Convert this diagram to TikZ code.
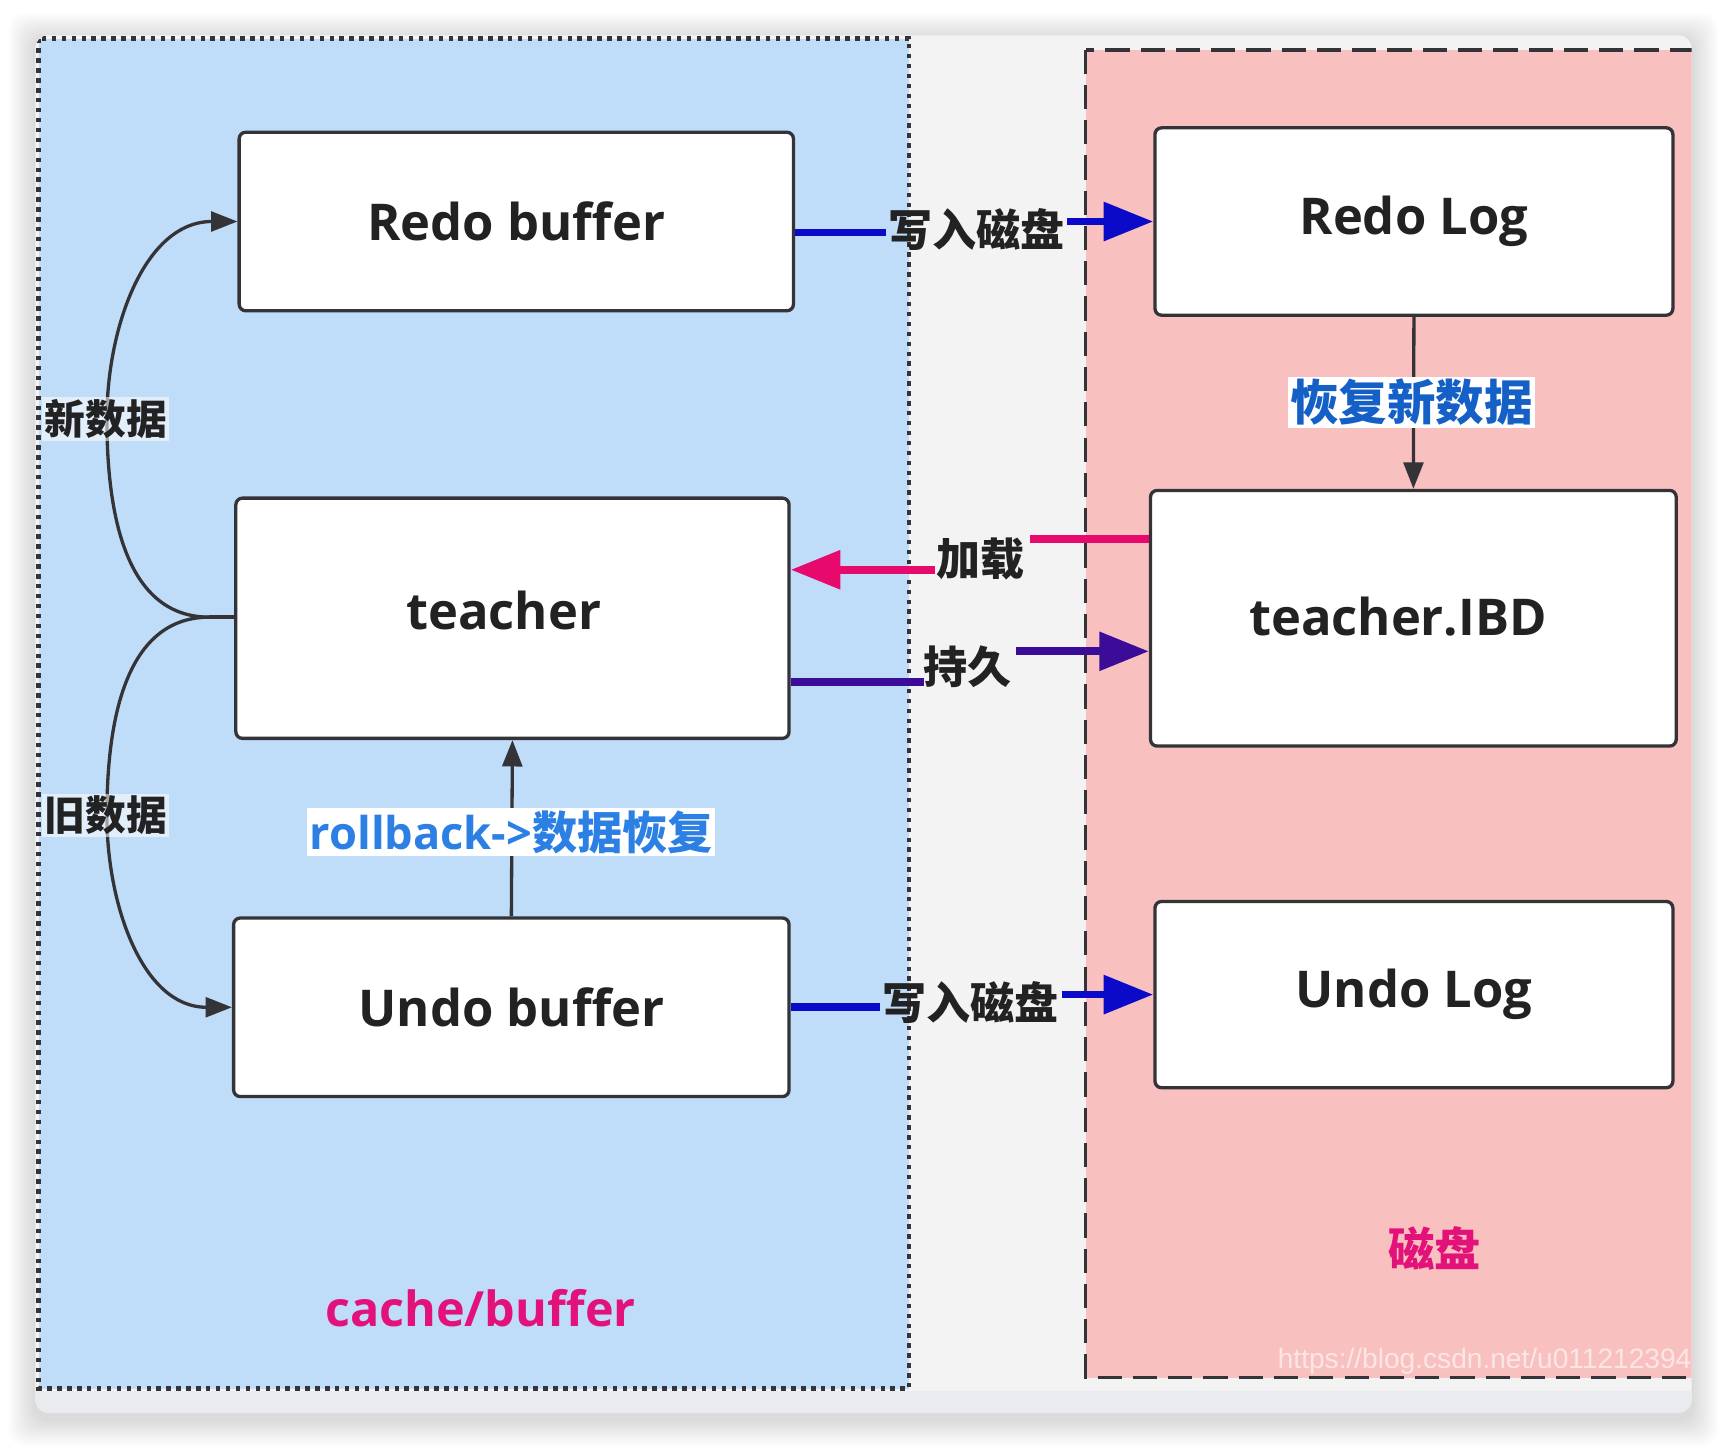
\documentclass[tikz,border=0pt]{standalone}
\usepackage{fontspec}
\setmainfont{Open Sans}
\newfontfamily\cjk{Noto Sans CJK SC}
\newfontfamily\wmfont{Liberation Sans}
\usetikzlibrary{arrows.meta}

\definecolor{cachefill}{HTML}{BFDDF8}
\definecolor{diskfill}{HTML}{F9C0C0}
\definecolor{cardfill}{HTML}{F3F3F3}
\definecolor{stripfill}{HTML}{E9EBEF}
\definecolor{boxline}{HTML}{333338}
\definecolor{txt}{HTML}{222222}
\definecolor{writeblue}{HTML}{0A0AC8}
\definecolor{loadpink}{HTML}{E8096C}
\definecolor{persistpurple}{HTML}{3A0C98}
\definecolor{recoverblue}{HTML}{1560C6}
\definecolor{rollblue}{HTML}{2C80E4}
\definecolor{areamagenta}{HTML}{E3127A}

\tikzset{
  box/.style={draw=boxline, line width=3pt, fill=white, rounded corners=6pt,
    inner sep=0pt, text=txt, font=\bfseries\fontsize{46}{50}\selectfont},
  cjklbl/.style={inner sep=2pt, text=txt, font=\cjk\bfseries\fontsize{40}{44}\selectfont},
  sidelbl/.style={cjklbl, fill=white, fill opacity=0.55, text opacity=1,
    font=\cjk\bfseries\fontsize{37}{40}\selectfont},
  fatline/.style={line width=7pt},
  fattip/.style={fatline, -{Triangle[length=45pt,width=34pt]}},
  blkline/.style={draw=boxline, line width=3pt},
  blktip/.style={blkline, -{Triangle[length=24pt,width=18pt]}},
  arealbl/.style={text=areamagenta, font=\bfseries\fontsize{44}{50}\selectfont}
}

\begin{document}
\begin{tikzpicture}[x=1pt,y=-1pt]
% page and card
\fill[white] (0,0) rectangle (1568,1316);
\useasboundingbox (0,0) rectangle (1568,1316);
\foreach \d in {2,4,...,24}{
  \fill[black, opacity=0.012, rounded corners=14pt]
    (32-\d,32-\d+4) rectangle (1535+\d,1282+\d+6);
}
\path[fill=cardfill, rounded corners=12pt] (32,32) rectangle (1535,1282);

\begin{scope}
  \clip[rounded corners=12pt] (32,32) rectangle (1535,1282);
  \fill[stripfill] (32,1262) rectangle (1535,1282);
  % memory side
  \fill[cachefill] (35,35) rectangle (825,1260);
  \draw[boxline, line width=4pt, dash pattern=on 4pt off 5pt]
    (35,35) rectangle (825,1260);
  % disk side
  \fill[diskfill] (985,45) rectangle (1560,1250);
  \draw[boxline, line width=3.5pt, dash pattern=on 22pt off 10pt]
    (985,45) rectangle (1560,1250);
  \node[anchor=west, text=white, text opacity=0.6,
    font=\wmfont\fontsize{25.5}{30}\selectfont] (wm) at (1156,1235)
    {https://blog.csdn.net/u011212394};
\end{scope}

% boxes
\node[box, minimum width=503pt, minimum height=162pt] (rb) at (468.5,201) {Redo buffer};
\node[box, minimum width=502pt, minimum height=218pt] (t)  at (465,561) {\raisebox{14pt}{teacher}\hspace*{16pt}};
\node[box, minimum width=504pt, minimum height=162pt] (ub) at (464,914) {Undo buffer};
\node[box, minimum width=470pt, minimum height=170pt] (rl) at (1283,201) {\raisebox{-3pt}{Redo Log}};
\node[box, minimum width=477pt, minimum height=232pt] (ib) at (1282.5,561) {\raisebox{4pt}{teacher.IBD}\hspace*{28pt}};
\node[box, minimum width=470pt, minimum height=169pt] (ul) at (1283,902.5) {Undo Log};

% area titles
\node[arealbl] (cb) at (436,1187) {cache/buffer};
\node[arealbl, font=\cjk\bfseries\fontsize{42}{46}\selectfont] (cp) at (1302,1133) {磁盘};

% write redo buffer to disk
\node[cjklbl] (w1) at (886,208) {写入磁盘};
\draw[writeblue, fatline] ([yshift=-10pt]rb.east) -- ([yshift=-10pt]rb.east -| w1.west);
\draw[writeblue, fattip] (w1.east |- rl.west) -- (rl.west);

% write undo buffer to disk
\node[cjklbl] (w2) at (881,910) {写入磁盘};
\draw[writeblue, fatline] (ub.east) -- (w2.west |- ub.east);
\draw[writeblue, fattip] (w2.east |- ul.west) -- (ul.west);

% load from disk
\node[cjklbl] (jz) at (890,507) {加载};
\coordinate (jzr) at (935,489);
\coordinate (jzl) at (848,517);
\draw[loadpink, fatline] (ib.west |- jzr) -- (jzr);
\draw[loadpink, fattip] (jzl) -- (t.east |- jzl);

% persist to disk
\node[cjklbl] (cj) at (878,605) {持久};
\coordinate (cjl) at (838,619);
\coordinate (cjr) at (922,591);
\draw[persistpurple, fatline] (t.east |- cjl) -- (cjl);
\draw[persistpurple, fattip] (cjr) -- (ib.west |- cjr);

% redo log recovers new data
\draw[blktip] (rl.south) -- (ib.north);
\node[inner sep=2pt, fill=white, text=recoverblue,
  font=\cjk\bfseries\fontsize{44}{48}\selectfont] (hf) at (1281,365) {恢复新数据};

% rollback
\draw[blktip] (ub.north) -- (t.south);
\node[inner sep=2pt, fill=white, text=rollblue] (rbk) at (464,755)
  {\bfseries\fontsize{41}{46}\selectfont rollback->\cjk 数据恢复};

% new / old data curves
\coordinate (j) at (190,560);
\coordinate (cn) at (97,380);
\coordinate (co) at (97,740);
\draw[blkline] (t.west |- j) -- (j);
\draw[blktip] (j) to[out=180,in=270] (cn) to[out=90,in=180] (rb.west);
\draw[blktip] (j) to[out=180,in=90] (co) to[out=270,in=180] (ub.west);
\node[sidelbl] (nd) at (96,380) {新数据};
\node[sidelbl] (od) at (96,740) {旧数据};
\end{tikzpicture}
\end{document}
